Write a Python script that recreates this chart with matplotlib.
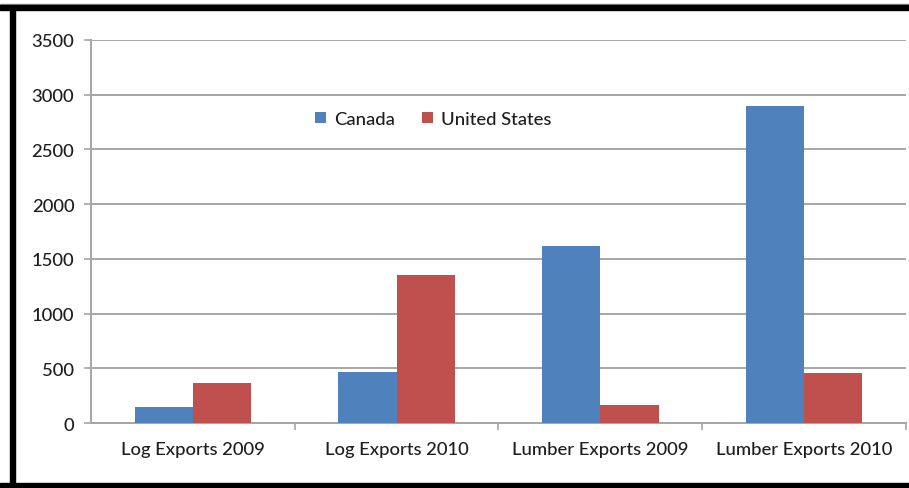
import numpy as np
import matplotlib.pyplot as plt
from matplotlib.patches import Rectangle

categories = ["Log Exports 2009", "Log Exports 2010",
              "Lumber Exports 2009", "Lumber Exports 2010"]
canada = [150, 465, 1615, 2900]
united_states = [365, 1350, 165, 460]
y_ticks = [0, 500, 1000, 1500, 2000, 2500, 3000, 3500]

plt.rcParams["font.family"] = ["Lato", "DejaVu Sans"]

fig = plt.figure(figsize=(9.09, 4.89), dpi=100)
ax = fig.add_axes([0.1001, 0.1329, 0.8966, 0.7833])

x = np.arange(len(categories))
w = 0.286
ax.bar(x - w / 2, canada, w, color="#4F81BD", label="Canada", zorder=3)
ax.bar(x + w / 2, united_states, w, color="#C0504D", label="United States", zorder=3)

ax.set_xlim(-0.5, len(categories) - 0.5)
ax.set_ylim(0, 3500)
ax.set_yticks(y_ticks)
ax.set_yticklabels([str(v) for v in y_ticks])
ax.yaxis.grid(True, color="#a6a6a6", linewidth=1.4, zorder=0)

# category labels centered, tick marks between categories
ax.set_xticks(x)
ax.set_xticklabels(categories)
ax.set_xticks(np.arange(len(categories)) + 0.5, minor=True)
ax.tick_params(axis="x", which="major", length=0, pad=13)
ax.tick_params(axis="x", which="minor", length=5, color="#a6a6a6", width=1.2)
ax.tick_params(axis="y", length=5, color="#a6a6a6", width=1.2, pad=7)
ax.tick_params(labelsize=13.3, labelcolor="#1e1e1e")
for lab in ax.get_xticklabels() + ax.get_yticklabels():
    lab.set_fontweight("medium")

for s in ["top", "right"]:
    ax.spines[s].set_visible(False)
for s in ["left", "bottom"]:
    ax.spines[s].set_color("#a6a6a6")
    ax.spines[s].set_linewidth(1.4)

leg = ax.legend(loc="center", bbox_to_anchor=(0.42, 0.794), ncol=2, frameon=False,
                prop={"size": 13.3, "weight": "medium"}, handlelength=0.6,
                handleheight=0.6, handletextpad=0.4, columnspacing=1.5,
                labelcolor="#1e1e1e")

# black frame around the picture
fig.patches.append(Rectangle((0, 1 - 6 / 489), 1, 1.5 / 489, transform=fig.transFigure,
                             color="#909090", zorder=0))
fig.patches.append(Rectangle((0, 1 - 11 / 489), 1, 5 / 489, transform=fig.transFigure,
                             color="black", zorder=0))
fig.patches.append(Rectangle((10 / 909, 0), 5 / 909, 1 - 11 / 489, transform=fig.transFigure,
                             color="black", zorder=0))
fig.patches.append(Rectangle((0, 0), 1, 5 / 489, transform=fig.transFigure,
                             color="black", zorder=0))

fig.savefig("out.png", dpi=100)
